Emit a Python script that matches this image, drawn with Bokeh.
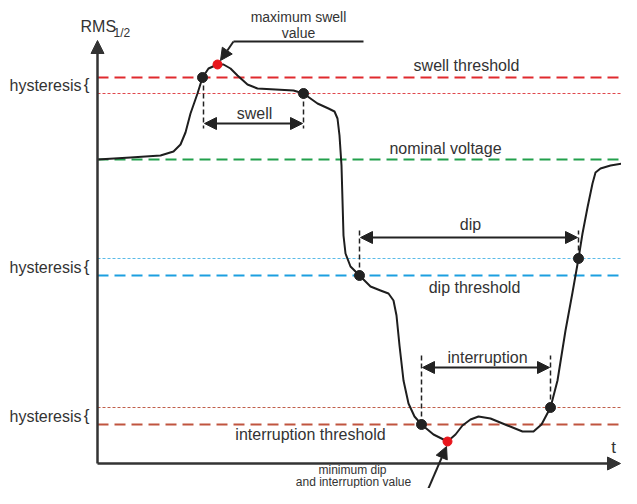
from bokeh.plotting import figure
from bokeh.models import Range1d, Arrow, NormalHead
from bokeh.core.properties import value
from bokeh.embed import file_html
from bokeh.resources import INLINE

# ---- data (schematic units: x = time, y = RMS level) ----
curve_t = [97, 130, 160, 173, 180, 185, 190, 197, 202, 208, 217, 223, 230, 237, 247, 257,
           275, 293, 303, 317, 328, 334, 337, 339, 341, 342, 343, 345, 350, 359, 370, 380,
           388, 393, 396, 399, 403, 408, 414, 421, 433, 447, 455, 462, 470, 478, 490, 507,
           522, 533, 541, 550, 557, 565, 572, 578, 582, 587, 592, 595, 600, 610, 622, 637]
curve_rms = [345, 347, 349, 353, 360, 372, 391, 411, 427, 436, 440, 440, 436, 429, 420, 416,
             415, 414, 411, 401, 396, 393, 386, 369, 339, 304, 269, 251, 238, 229, 218, 214,
             211, 204, 189, 159, 124, 101, 88, 80, 70, 63, 70, 79, 85, 88, 86, 79,
             73, 73, 80, 97, 124, 174, 212, 246, 271, 297, 321, 332, 336, 339, 341, 342]

# threshold levels
swell_threshold = 427
swell_hysteresis = 411
nominal_voltage = 345
dip_hysteresis = 246
dip_threshold = 229
interruption_hysteresis = 97
interruption_threshold = 80

# event points (start/end crossings) and extremes
event_t = [202, 303, 359, 578, 421, 550]
event_rms = [427, 411, 229, 246, 80, 97]
extreme_t = [217, 447]
extreme_rms = [440, 63]

# durations (start, end, arrow level, marker top)
swell_span = (203, 303, 381, 376)
dip_span = (359, 578, 267, 274)
interruption_span = (421, 550, 137, 149)

# axes
t0, t1 = 97, 620
rms0, rms1 = 41, 464

TEXT = "#333333"
FONT = value("Liberation Sans")

p = figure(width=621, height=488, x_range=Range1d(0, 621), y_range=Range1d(16, 504),
           output_backend="svg", toolbar_location=None, min_border=0,
           x_axis_location=None, y_axis_location=None)
p.grid.visible = False
p.outline_line_color = None
p.background_fill_color = "white"
p.border_fill_color = "white"

# threshold lines
thr_levels = [swell_threshold, swell_hysteresis, nominal_voltage, dip_hysteresis,
              dip_threshold, interruption_hysteresis, interruption_threshold]
thr_colors = ["#e02a2e", "#e0474c", "#22a04c", "#5bbbe8", "#1c9fe0", "#c0604c", "#c0543f"]
thr_widths = [2, 1, 2, 1, 2, 1, 2]
thr_dash = ["11 6", "3 2", "11 6", "3 2", "11 6", "3 2", "11 6"]
for lv, c, w, d in zip(thr_levels, thr_colors, thr_widths, thr_dash):
    p.line([t0, 637], [lv, lv], line_color=c, line_width=w, line_dash=d)

# vertical dashed markers and duration arrows
for (a, b, lvl, top), ya, yb in [(swell_span, event_rms[0], event_rms[1]),
                                 (dip_span, event_rms[2], event_rms[3]),
                                 (interruption_span, event_rms[4], event_rms[5])]:
    p.line([a, a], [ya, top], line_color="#222", line_width=1.5, line_dash="5 3")
    p.line([b, b], [yb, top], line_color="#222", line_width=1.5, line_dash="5 3")
    p.add_layout(Arrow(start=NormalHead(size=12, fill_color="#222", line_color="#222"),
                       end=NormalHead(size=12, fill_color="#222", line_color="#222"),
                       x_start=a + 1, y_start=lvl, x_end=b - 1, y_end=lvl,
                       line_color="#222", line_width=2))

# axes with arrows
p.add_layout(Arrow(end=NormalHead(size=13, fill_color="#333", line_color="#333"),
                   x_start=t0, y_start=rms0, x_end=t0, y_end=rms1,
                   line_color="#333", line_width=2.5))
p.add_layout(Arrow(end=NormalHead(size=13, fill_color="#333", line_color="#333"),
                   x_start=t0, y_start=rms0, x_end=t1, y_end=rms0,
                   line_color="#333", line_width=2.5))

# curve
p.line(curve_t, curve_rms, line_color="#1e1e1e", line_width=2, line_join="round")

# dots
p.scatter(event_t, event_rms, size=10, color="#222222")
p.scatter(extreme_t, extreme_rms, size=9, color="#e8161c")

# annotation pointers
p.line([363, 233], [463, 463], line_color="#222", line_width=2)
p.add_layout(Arrow(end=NormalHead(size=12, fill_color="#222", line_color="#222"),
                   x_start=233, y_start=463, x_end=220, y_end=444,
                   line_color="#222", line_width=2))
p.add_layout(Arrow(end=NormalHead(size=12, fill_color="#222", line_color="#222"),
                   x_start=421, y_start=0, x_end=446, y_end=58,
                   line_color="#222", line_width=2))

# texts
lab_x = [466, 445, 254, 470, 474, 487, 310]
lab_y = [439, 356, 391, 280, 217, 147, 70]
lab_t = ["swell threshold", "nominal voltage", "swell", "dip", "dip threshold",
         "interruption", "interruption threshold"]
p.text(lab_x, lab_y, text=lab_t, text_font=FONT, text_font_size="16px",
       text_align="center", text_baseline="middle", text_color=TEXT)

small_x = [298, 298, 352, 353]
small_y = [488, 472, 35, 23]
small_t = ["maximum swell", "value", "minimum dip", "and interruption value"]
small_sz = ["14px", "14px", "12px", "12px"]
p.text(small_x, small_y, text=small_t, text_font=FONT, text_font_size=small_sz,
       text_align="center", text_baseline="middle", text_color=TEXT)

hyst_y = [419, 237, 88]
p.text([9] * 3, hyst_y, text=["hysteresis"] * 3, text_font=FONT, text_font_size="16px",
       text_align="left", text_baseline="middle", text_color=TEXT)
p.text([86] * 3, [y + 1 for y in hyst_y], text=["{"] * 3, text_font=FONT, text_font_size="17px",
       text_align="center", text_baseline="middle", text_color=TEXT)

p.text([80], [478], text=["RMS"], text_font=FONT, text_font_size="16px",
       text_align="left", text_baseline="middle", text_color=TEXT)
p.text([113], [472], text=["1/2"], text_font=FONT, text_font_size="12px",
       text_align="left", text_baseline="middle", text_color=TEXT)
p.text([613], [57], text=["t"], text_font=FONT, text_font_size="17px",
       text_align="center", text_baseline="middle", text_color=TEXT)

open("out.html", "w").write(file_html(p, INLINE))
